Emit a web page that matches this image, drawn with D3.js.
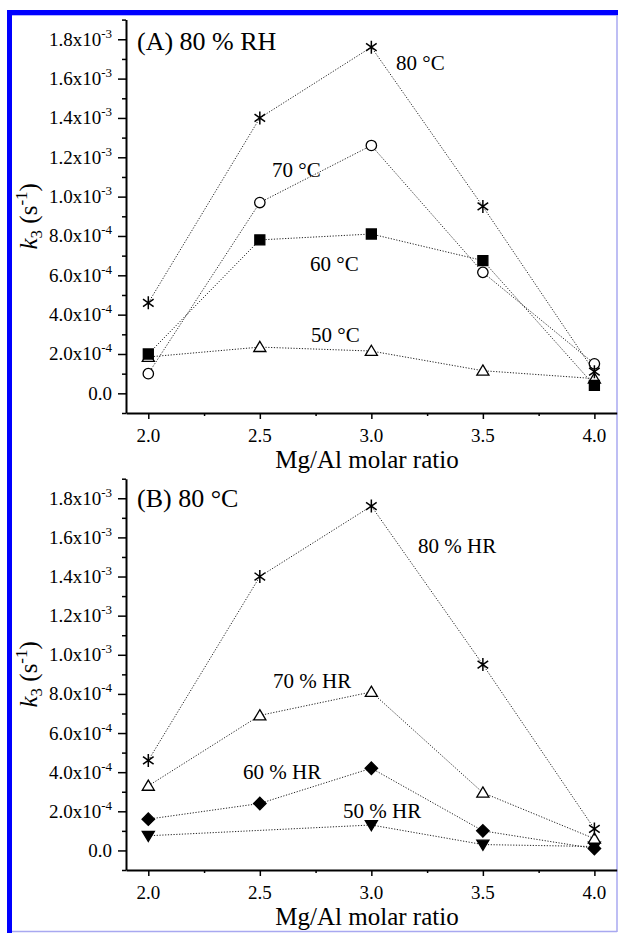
<!DOCTYPE html>
<html>
<head>
<meta charset="utf-8">
<script src="https://cdn.jsdelivr.net/npm/d3@7"></script>
<style>
  html, body { margin: 0; padding: 0; background: #fff; }
  svg { display: block; }
  text { font-family: "Liberation Serif", "Times New Roman", serif; fill: #000; }
</style>
</head>
<body>
<svg id="chart" width="618" height="933"></svg>
<script>
// Mg/Al molar ratios sampled
const ratios = [2.0, 2.5, 3.0, 3.5, 4.0];
const xTicks = [2.0, 2.5, 3.0, 3.5, 4.0];
const yTicks = [0, 2e-4, 4e-4, 6e-4, 8e-4, 1.0e-3, 1.2e-3, 1.4e-3, 1.6e-3, 1.8e-3];

// Panel A: k3 at 80 % RH for several temperatures
const a80C = [4.6e-4, 1.40e-3, 1.76e-3, 9.5e-4, 1.1e-4];
const a70C = [1.0e-4, 9.7e-4, 1.26e-3, 6.15e-4, 1.5e-4];
const a60C = [2.0e-4, 7.8e-4, 8.1e-4, 6.75e-4, 4e-5];
const a50C = [1.85e-4, 2.35e-4, 2.15e-4, 1.15e-4, 7.5e-5];

// Panel B: k3 at 80 °C for several humidities
const b80HR = [4.6e-4, 1.40e-3, 1.76e-3, 9.5e-4, 1.1e-4];
const b70HR = [3.3e-4, 6.9e-4, 8.1e-4, 2.95e-4, 6e-5];
const b60HR = [1.6e-4, 2.4e-4, 4.2e-4, 1.0e-4, 1e-5];
const b50HRratios = [2.0, 3.0, 3.5, 4.0];
const b50HR = [7.5e-5, 1.3e-4, 3e-5, 2e-5];

const svg = d3.select("#chart");

// publisher frame
svg.append("rect").attr("x", 7).attr("y", 10).attr("width", 611).attr("height", 5.3).attr("fill", "#0000ff");
svg.append("rect").attr("x", 7).attr("y", 10).attr("width", 5).attr("height", 923).attr("fill", "#0000ff");
svg.append("line").attr("x1", 617).attr("x2", 617).attr("y1", 15).attr("y2", 932)
  .attr("stroke", "#a8a8f0").attr("stroke-width", 1.5);
svg.append("line").attr("x1", 12).attr("x2", 617).attr("y1", 931.5).attr("y2", 931.5)
  .attr("stroke", "#a8a8f0").attr("stroke-width", 1.5);

const x = d3.scaleLinear().domain([1.9, 4.1]).range([126, 616.7]);

// marker shapes
function markerPath(kind, s) {
  const p = d3.path();
  if (kind === "star") {
    const r = s;
    p.moveTo(0, -r); p.lineTo(0, r);
    const a = Math.PI / 3.3;
    p.moveTo(-r * Math.sin(a), -r * Math.cos(a)); p.lineTo(r * Math.sin(a), r * Math.cos(a));
    p.moveTo(r * Math.sin(a), -r * Math.cos(a)); p.lineTo(-r * Math.sin(a), r * Math.cos(a));
  } else if (kind === "circle") {
    p.arc(0, 0, s, 0, 2 * Math.PI);
  } else if (kind === "square") {
    p.rect(-s, -s, 2 * s, 2 * s);
  } else if (kind === "triUp") {
    p.moveTo(0, -s * 1.05); p.lineTo(s * 1.1, s * 0.8); p.lineTo(-s * 1.1, s * 0.8); p.closePath();
  } else if (kind === "triDown") {
    p.moveTo(0, s * 1.05); p.lineTo(s * 1.1, -s * 0.8); p.lineTo(-s * 1.1, -s * 0.8); p.closePath();
  } else if (kind === "diamond") {
    p.moveTo(0, -s * 1.25); p.lineTo(s * 1.25, 0); p.lineTo(0, s * 1.25); p.lineTo(-s * 1.25, 0); p.closePath();
  }
  return p.toString();
}

function drawPanel(cfg) {
  const y = d3.scaleLinear().domain([-1e-4, 1.9e-3]).range([cfg.bottom, cfg.top]);
  const g = svg.append("g");

  // y axis: major and minor ticks
  g.append("g").attr("transform", `translate(${x.range()[0]},0)`)
    .call(d3.axisLeft(y).tickValues(yTicks).tickSize(8).tickSizeOuter(0).tickFormat(""));
  g.append("g").attr("transform", `translate(${x.range()[0]},0)`)
    .call(d3.axisLeft(y).tickValues(d3.range(-1e-4, 1.9e-3 + 1e-9, 2e-4)).tickSize(4).tickSizeOuter(0).tickFormat(""))
    .call(a => a.select(".domain").remove());
  // x axis: major and minor ticks
  g.append("g").attr("transform", `translate(0,${cfg.bottom})`)
    .call(d3.axisBottom(x).tickValues(xTicks).tickSize(6).tickSizeOuter(0).tickFormat(""));
  g.append("g").attr("transform", `translate(0,${cfg.bottom})`)
    .call(d3.axisBottom(x).tickValues([2.25, 2.75, 3.25, 3.75]).tickSize(3).tickSizeOuter(0).tickFormat(""))
    .call(a => a.select(".domain").remove());
  g.selectAll(".domain").attr("stroke", "#000").attr("stroke-width", 2);
  g.selectAll(".tick line").attr("stroke", "#000").attr("stroke-width", 1.5);

  // y tick labels with powers of ten
  yTicks.forEach(v => {
    const t = g.append("text").attr("x", 112).attr("y", y(v) + 6.5)
      .attr("text-anchor", "end").style("font-size", "19px");
    if (v === 0) { t.text("0.0"); return; }
    const e = Math.floor(Math.log10(v) + 1e-9);
    const m = v / Math.pow(10, e);
    t.append("tspan").text(m.toFixed(1) + "x10");
    t.append("tspan").attr("dy", -8).style("font-size", "13px").text(String(e));
  });

  // x tick labels
  xTicks.forEach(v => {
    g.append("text").attr("x", x(v)).attr("y", cfg.bottom + 29)
      .attr("text-anchor", "middle").style("font-size", "19px").text(v.toFixed(1));
  });

  // axis titles
  g.append("text").attr("x", 367).attr("y", cfg.bottom + 55)
    .attr("text-anchor", "middle").style("font-size", "25px").text("Mg/Al molar ratio");
  const yl = g.append("text")
    .attr("transform", `translate(37,${(cfg.top + cfg.bottom) / 2}) rotate(-90)`)
    .attr("text-anchor", "middle").style("font-size", "25px");
  yl.append("tspan").style("font-style", "italic").text("k");
  yl.append("tspan").attr("dy", 5).style("font-size", "17px").text("3");
  yl.append("tspan").attr("dy", -5).text(" (s");
  yl.append("tspan").attr("dy", -10).style("font-size", "17px").text("-1");
  yl.append("tspan").attr("dy", 10).text(")");

  // panel title
  g.append("text").attr("x", 137).attr("y", cfg.titleY).style("font-size", "26px").text(cfg.title);

  // series: dotted connecting line, markers, label
  cfg.series.forEach(s => {
    const xs = s.xs || ratios;
    const pts = xs.map((r, i) => [x(r), y(s.values[i])]);
    g.append("path").attr("d", d3.line()(pts)).attr("fill", "none")
      .attr("stroke", "#222").attr("stroke-width", 1).attr("stroke-dasharray", "1.2,1.6");
    g.selectAll(null).data(pts).join("path")
      .attr("transform", d => `translate(${d[0]},${d[1]})`)
      .attr("d", markerPath(s.marker, s.size))
      .attr("fill", s.filled ? "#000" : (s.marker === "star" ? "none" : "#fff"))
      .attr("stroke", "#000").attr("stroke-width", s.marker === "star" ? 1.5 : 1.3);
    g.append("text").attr("x", s.label[0]).attr("y", s.label[1])
      .style("font-size", "21px").text(s.name);
  });
}

drawPanel({
  top: 19.6, bottom: 413, titleY: 50, title: "(A) 80 % RH",
  series: [
    { name: "50 °C", values: a50C, marker: "triUp", size: 5.5, filled: false, label: [311, 342] },
    { name: "60 °C", values: a60C, marker: "square", size: 5, filled: true, label: [310, 271] },
    { name: "70 °C", values: a70C, marker: "circle", size: 5.2, filled: false, label: [272, 177] },
    { name: "80 °C", values: a80C, marker: "star", size: 6.5, filled: false, label: [396, 70] }
  ]
});

drawPanel({
  top: 478.7, bottom: 870, titleY: 507, title: "(B) 80 °C",
  series: [
    { name: "50 % HR", xs: b50HRratios, values: b50HR, marker: "triDown", size: 5.5, filled: true, label: [343, 818] },
    { name: "60 % HR", values: b60HR, marker: "diamond", size: 5, filled: true, label: [243, 779] },
    { name: "70 % HR", values: b70HR, marker: "triUp", size: 5.5, filled: false, label: [273, 688] },
    { name: "80 % HR", values: b80HR, marker: "star", size: 6.5, filled: false, label: [418, 553] }
  ]
});
</script>
</body>
</html>
